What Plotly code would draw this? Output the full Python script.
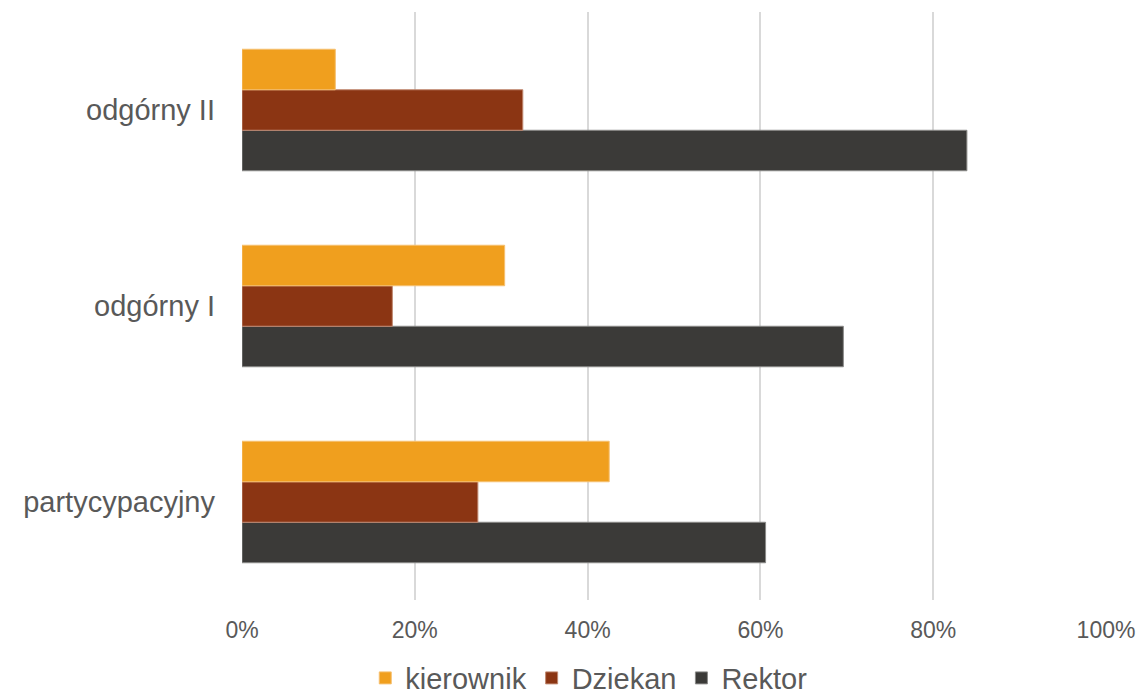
import plotly.graph_objects as go

categories = ["partycypacyjny", "odgórny I", "odgórny II"]
kierownik = [42.5, 30.4, 10.8]
dziekan = [27.3, 17.4, 32.5]
rektor = [60.6, 69.6, 83.9]
tick_vals = [0, 20, 40, 60, 80, 100]
tick_text = ["0%", "20%", "40%", "60%", "80%", "100%"]

FONT = "Liberation Sans, Arial, sans-serif"

fig = go.Figure()
fig.add_trace(go.Bar(y=categories, x=rektor, name="Rektor", orientation="h",
                     marker=dict(color="#3B3A38", line=dict(color="#8a8a88", width=1)), legendrank=3))
fig.add_trace(go.Bar(y=categories, x=dziekan, name="Dziekan", orientation="h",
                     marker=dict(color="#8B3513", line=dict(color="#c08870", width=1)), legendrank=2))
fig.add_trace(go.Bar(y=categories, x=kierownik, name="kierownik", orientation="h",
                     marker=dict(color="#F09F1E", line=dict(color="#f6c070", width=1)), legendrank=1))

fig.update_layout(
    width=1141, height=699,
    margin=dict(l=242, r=35, t=12, b=99),
    paper_bgcolor="white", plot_bgcolor="white",
    barmode="group", bargap=0.38, bargroupgap=0,
    font=dict(family=FONT, color="#595959"),
    xaxis=dict(range=[0, 100], tickvals=tick_vals, ticktext=tick_text,
               showgrid=True, gridcolor="#d9d9d9", gridwidth=2, zeroline=False,
               tickfont=dict(size=23, family=FONT, color="#595959"), ticklabelstandoff=14,
               showline=False, fixedrange=True, automargin=False),
    yaxis=dict(tickfont=dict(size=29, family=FONT, color="#595959"),
               ticklabelstandoff=26, showline=False, showgrid=False, fixedrange=True,
               automargin=False),
    legend=dict(orientation="h", xref="container", yref="container",
                x=0.516, xanchor="center", y=0.03, yanchor="middle",
                font=dict(size=29, family=FONT, color="#595959"), traceorder="normal",
                itemwidth=30, bgcolor="rgba(0,0,0,0)"),
    showlegend=True,
)

fig.write_html("out.html")
